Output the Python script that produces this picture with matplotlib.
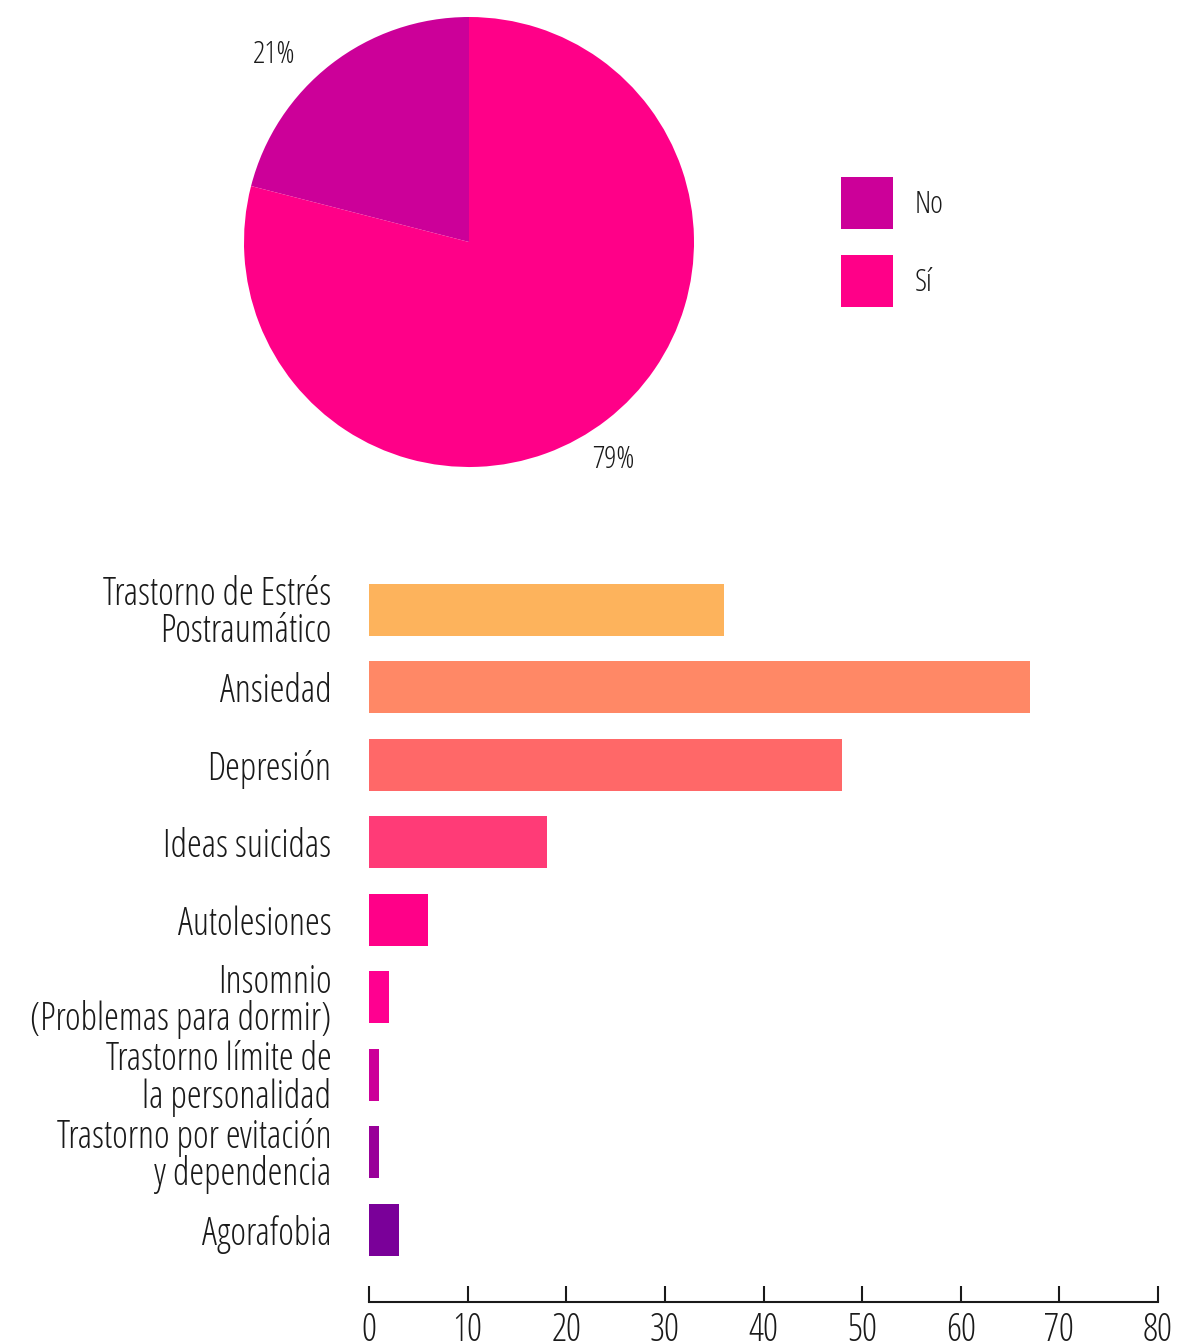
import matplotlib
matplotlib.use("Agg")
import matplotlib.pyplot as plt
from matplotlib.patches import Patch

plt.rcParams['font.family'] = 'Open Sans'
plt.rcParams['font.weight'] = 300
plt.rcParams['font.stretch'] = 'condensed'

# Pie data
pie_labels = ["No", "Sí"]
pie_values = [21, 79]
pie_colors = ["#CC0099", "#FF0088"]
pie_text = ["21%", "79%"]

# Bar data
categories = [
    "Trastorno de Estrés\nPostraumático",
    "Ansiedad",
    "Depresión",
    "Ideas suicidas",
    "Autolesiones",
    "Insomnio\n(Problemas para dormir)",
    "Trastorno límite de\nla personalidad",
    "Trastorno por evitación\ny dependencia",
    "Agorafobia",
]
values = [36, 67, 48, 18, 6, 2, 1, 1, 3]
bar_colors = ["#FDB35C", "#FF8866", "#FF6868", "#FF3B77", "#FF0088",
              "#FF0090", "#CC0099", "#990099", "#7A0099"]
xticks = [0, 10, 20, 30, 40, 50, 60, 70, 80]

TXT = '#1a1a1a'
W, H = 1185, 1342
fig = plt.figure(figsize=(W / 100, H / 100), dpi=100)

# ---- Pie ----
axp = fig.add_axes([244 / W, 1 - 467 / H, 450 / W, 450 / H])
axp.pie(pie_values, colors=pie_colors, startangle=90,
        counterclock=True, radius=1.0, wedgeprops=dict(linewidth=0))
axp.set_xlim(-1, 1)
axp.set_ylim(-1, 1)
axp.set_aspect('equal')
axp.axis('off')
axp.text(-0.868, 0.83, pie_text[0], ha='center', va='center', fontsize=22, color=TXT, clip_on=False)
axp.text(0.64, -0.97, pie_text[1], ha='center', va='center', fontsize=22, color=TXT, clip_on=False)

handles = [Patch(facecolor=c, edgecolor='none') for c in pie_colors]
fs_leg = 22
fig.legend(handles, pie_labels, loc='upper left',
           bbox_to_anchor=(841 / W, 1 - 177 / H), bbox_transform=fig.transFigure,
           frameon=False, fontsize=fs_leg, handlelength=1.70, handleheight=2.25,
           labelspacing=0.85, handletextpad=0.72, borderpad=0, borderaxespad=0,
           labelcolor=TXT)

# ---- Bars ----
top_px, bot_px = 571, 1302
axb = fig.add_axes([369 / W, 1 - bot_px / H, 789 / W, (bot_px - top_px) / H])
ypos = list(range(len(categories)))
axb.barh(ypos, values, height=0.67, color=bar_colors)
axb.set_xlim(0, 80)
axb.set_ylim(len(categories) - 1 + 72 / 77.5, -0.5)
axb.set_yticks(ypos)
axb.set_yticklabels(categories, fontsize=27, color=TXT, linespacing=0.95)
axb.set_xticks(xticks)
axb.set_xticklabels([str(t) for t in xticks], fontsize=27, color=TXT)
axb.tick_params(axis='y', length=0, pad=27)
axb.tick_params(axis='x', direction='in', length=11.5, width=1.5, pad=7, color=TXT)
for s in ['top', 'right', 'left']:
    axb.spines[s].set_visible(False)
axb.spines['bottom'].set_linewidth(1.5)
axb.spines['bottom'].set_color(TXT)

fig.savefig("out.png", dpi=100)
